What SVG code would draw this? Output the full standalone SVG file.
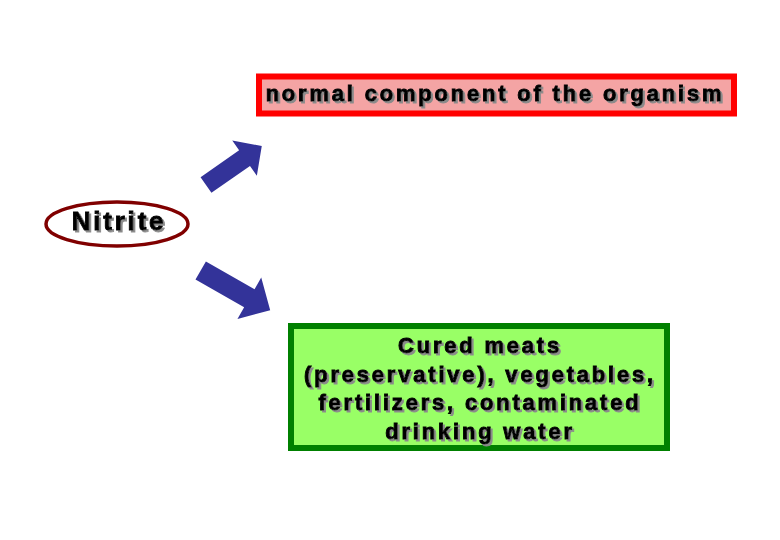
<svg xmlns="http://www.w3.org/2000/svg" width="780" height="540" viewBox="0 0 780 540">
<defs>
<filter id="sh" x="-10%" y="-30%" width="120%" height="160%">
<feDropShadow dx="2" dy="2" stdDeviation="0.6" flood-color="#8a8a8a" flood-opacity="1"/>
</filter>
</defs>
<style>
.t{font-family:"Liberation Sans",Arial,sans-serif;font-weight:bold;font-size:22px;letter-spacing:2.8px;text-anchor:middle;fill:#000;stroke:#000;stroke-width:0.9px;filter:url(#sh)}
.arrow{fill:#333399}
</style>
<rect width="780" height="540" fill="#fff"/>
<g id="nitrite">
<ellipse cx="117" cy="224" rx="71" ry="22" fill="#fff" stroke="#800000" stroke-width="3.5"/>
<text class="t" x="119" y="230" style="font-size:26px">Nitrite</text>
</g>
<g id="normal">
<rect x="259" y="76.5" width="475" height="37" fill="#f4a4a4" stroke="#ff0000" stroke-width="6"/>
<text class="t" x="495" y="101">normal component of the organism</text>
</g>
<g id="sources">
<rect x="291" y="326" width="376" height="122" fill="#99ff66" stroke="#008000" stroke-width="6"/>
<text class="t" x="480" y="353">Cured meats</text>
<text class="t" x="480" y="381.6">(preservative), vegetables,</text>
<text class="t" x="480" y="410.2">fertilizers, contaminated</text>
<text class="t" x="480" y="438.8">drinking water</text>
</g>
<g id="connectors">
<polygon class="arrow" transform="translate(206,185) rotate(-34.9)" points="0,-9.5 47,-9.5 47,-21.5 68,0 47,21.5 47,9.5 0,9.5"/>
<polygon class="arrow" transform="translate(200.7,270.5) rotate(29.7)" points="0,-10.5 56,-10.5 56,-24 80,0 56,24 56,10.5 0,10.5"/>
</g>
</svg>
